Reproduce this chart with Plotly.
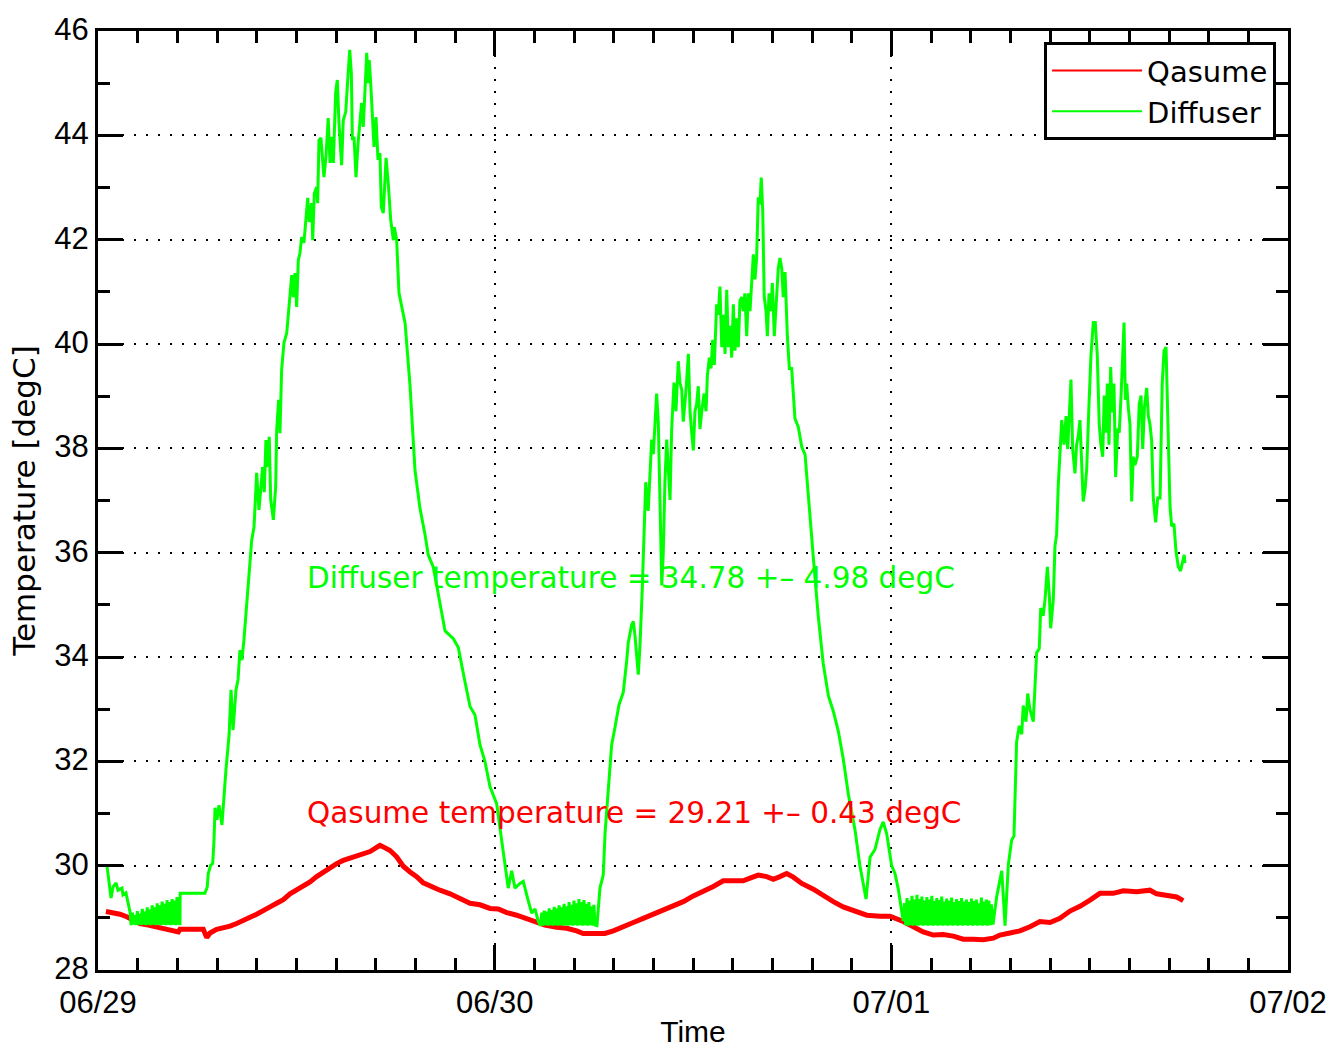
import plotly.graph_objects as go

# ---------------- data (time in hours from 06/29 00:00, temperature in degC) ----------------
day_ticks = [0, 24, 48, 72]
day_labels = ["06/29", "06/30", "07/01", "07/02"]

diffuser_hours = [
    0.54, 0.79, 0.91, 1.09, 1.21, 1.45, 1.51, 1.69, 1.94, 2.00,
    2.08, 2.15, 2.23, 2.30, 2.38, 2.45, 2.53, 2.60, 2.68, 2.75, 2.83, 2.90, 2.98, 3.05, 3.13, 3.20,
    3.28, 3.35, 3.43, 3.50, 3.58, 3.65, 3.73, 3.80, 3.88, 3.95, 4.03, 4.10, 4.18, 4.25, 4.33, 4.40,
    4.48, 4.55, 4.63, 4.70, 4.78, 4.85, 4.93, 4.96, 4.97, 6.47,
    6.61, 6.67, 6.82, 6.94, 7.02, 7.08, 7.20, 7.32, 7.50, 7.74, 7.93, 8.05, 8.17, 8.35, 8.47, 8.59,
    8.71, 8.83, 9.02, 9.24, 9.30, 9.44, 9.50, 9.60, 9.74, 9.84, 9.96, 10.06, 10.16, 10.24, 10.36,
    10.45, 10.61, 10.75, 10.81, 10.93, 11.01, 11.11, 11.25, 11.42, 11.51, 11.62, 11.72, 11.82, 11.92,
    12.02, 12.12, 12.22, 12.32, 12.46, 12.58, 12.69, 12.78, 12.93, 12.99, 13.09, 13.23, 13.29, 13.37,
    13.49, 13.67, 13.79, 13.93, 14.04, 14.14, 14.24, 14.38, 14.48, 14.58, 14.74, 14.84, 14.99, 15.11,
    15.23, 15.33, 15.39, 15.49, 15.61, 15.75, 15.85, 15.95, 16.05, 16.17, 16.26, 16.35, 16.41, 16.50,
    16.58, 16.70, 16.82, 16.94, 17.06, 17.14, 17.26, 17.43, 17.56, 17.71, 17.87, 17.93, 18.07, 18.21,
    18.58, 18.88, 19.18, 19.48, 19.78, 19.98, 20.29, 20.59, 21.00, 21.50, 21.80, 22.20, 22.51, 22.81,
    23.11, 23.41, 23.72, 24.12, 24.32, 24.62, 24.82, 25.03, 25.23, 25.53, 25.73, 26.03, 26.24, 26.44,
    26.64, 26.78,
    26.85, 26.93, 27.00, 27.08, 27.15, 27.23, 27.30, 27.38, 27.45, 27.53, 27.60, 27.68, 27.75, 27.83,
    27.90, 27.98, 28.05, 28.13, 28.20, 28.28, 28.35, 28.43, 28.50, 28.58, 28.65, 28.73, 28.80, 28.88,
    28.95, 29.03, 29.10, 29.18, 29.25, 29.33, 29.40, 29.48, 29.55, 29.63, 29.70, 29.78, 29.85, 29.93,
    30.00, 30.08, 30.19,
    30.37, 30.57, 30.68, 30.87, 31.08, 31.28, 31.52, 31.78, 31.89, 31.99, 32.08, 32.29, 32.39, 32.49,
    32.69, 32.79, 32.93, 33.03, 33.14, 33.29, 33.40, 33.50, 33.60, 33.70, 33.80, 33.90, 34.00, 34.11,
    34.20, 34.30, 34.41, 34.51, 34.61, 34.71, 34.85, 34.97, 35.11, 35.21, 35.32, 35.41, 35.58, 35.72,
    35.82, 35.92, 36.02, 36.12, 36.22, 36.32, 36.42, 36.53, 36.67, 36.79, 36.87, 36.99, 37.09, 37.19,
    37.29, 37.43, 37.53, 37.63, 37.74, 37.83, 37.94, 38.04, 38.14, 38.24, 38.34, 38.44, 38.54, 38.64,
    38.74, 38.84, 38.95, 39.04, 39.14, 39.25, 39.35, 39.45, 39.55, 39.65, 39.75, 39.85, 39.95, 40.05,
    40.13, 40.22, 40.31, 40.42, 40.50, 40.60, 40.72, 40.80, 40.92, 41.06, 41.16, 41.26, 41.37, 41.46,
    41.57, 41.71, 41.83, 41.97, 42.17, 42.37, 42.58, 42.78, 42.98, 43.28, 43.58, 43.88, 44.19, 44.49,
    44.79, 45.09, 45.40, 45.80, 46.10, 46.47, 46.71, 47.01, 47.31, 47.51, 47.72, 48.02, 48.22, 48.42,
    48.72,
    48.80, 48.87, 48.95, 49.02, 49.10, 49.17, 49.25, 49.32, 49.40, 49.47, 49.55, 49.62, 49.70, 49.77,
    49.85, 49.92, 50.00, 50.07, 50.15, 50.22, 50.30, 50.37, 50.45, 50.52, 50.60, 50.67, 50.75, 50.82,
    50.90, 50.97, 51.05, 51.12, 51.20, 51.27, 51.35, 51.42, 51.50, 51.57, 51.65, 51.72, 51.80, 51.87,
    51.95, 52.02, 52.10, 52.17, 52.25, 52.32, 52.40, 52.47, 52.55, 52.62, 52.70, 52.77, 52.85, 52.92,
    53.00, 53.07, 53.15, 53.22, 53.30, 53.37, 53.45, 53.52, 53.60, 53.67, 53.75, 53.82, 53.90, 53.97,
    54.05, 54.15,
    54.37, 54.68, 54.88, 55.08, 55.28, 55.42, 55.58, 55.74, 55.89, 55.98, 56.15, 56.25, 56.39, 56.59,
    56.79, 56.95, 57.04, 57.19, 57.30, 57.44, 57.56, 57.64, 57.80, 57.90, 58.00, 58.10, 58.20, 58.31,
    58.45, 58.57, 58.67, 58.77, 58.87, 58.97, 59.11, 59.21, 59.31, 59.41, 59.52, 59.61, 59.72, 59.82,
    59.96, 60.08, 60.22, 60.34, 60.46, 60.58, 60.68, 60.79, 60.88, 60.99, 61.07, 61.17, 61.27, 61.37,
    61.47, 61.57, 61.70, 61.79, 61.90, 62.00, 62.08, 62.16, 62.24, 62.34, 62.44, 62.54, 62.64, 62.74,
    62.88, 63.00, 63.11, 63.21, 63.31, 63.45, 63.55, 63.65, 63.75, 63.85, 63.99, 64.12, 64.26, 64.39,
    64.50, 64.62, 64.76, 64.86, 64.96, 65.10, 65.22, 65.36, 65.50, 65.62, 65.72, 65.76,
]

diffuser_temp = [
    30.00, 29.38, 29.59, 29.67, 29.53, 29.57, 29.44, 29.48, 29.11, 28.86,
    29.10, 28.87, 29.05, 28.86, 29.13, 28.87, 29.08, 28.86, 29.17, 28.87, 29.12, 28.86, 29.20, 28.87, 29.16, 28.86,
    29.24, 28.87, 29.20, 28.86, 29.28, 28.87, 29.24, 28.86, 29.31, 28.87, 29.27, 28.86, 29.34, 28.87, 29.30, 28.86,
    29.36, 28.87, 29.33, 28.86, 29.40, 28.87, 29.38, 28.86, 29.47, 29.47,
    29.59, 29.85, 30.01, 30.04, 30.49, 31.11, 30.88, 31.16, 30.78, 31.83, 32.50, 33.37, 32.60, 33.37, 33.56, 34.13,
    33.94, 34.33, 35.09, 35.86, 36.24, 36.49, 36.88, 37.53, 36.82, 37.20, 37.64, 37.16, 38.16, 37.64, 38.22,
    37.01, 36.63, 37.26, 38.35, 38.93, 38.29, 39.50, 40.02, 40.21, 40.52, 40.84, 41.32, 40.90, 41.36,
    40.71, 41.61, 41.74, 42.05, 41.94, 42.43, 42.80, 42.34, 42.70, 41.99, 42.89, 43.01, 42.70, 43.91,
    43.95, 43.20, 43.58, 44.33, 43.47, 43.97, 43.47, 44.83, 45.06, 44.24, 43.43, 44.29, 44.45, 45.06,
    45.64, 45.19, 43.91, 43.97, 43.20, 43.91, 44.29, 44.62, 44.16, 45.19, 45.58, 45.00, 45.44, 45.00,
    44.49, 43.78, 44.35, 43.53, 43.66, 42.63, 42.51, 43.57, 43.09, 42.38, 41.99, 42.24, 41.99, 40.98,
    40.40, 39.20, 37.58, 36.85, 36.36, 35.96, 35.72, 35.23, 34.50, 34.35, 34.18, 33.53, 33.05, 32.89,
    32.32, 32.00, 31.51, 31.19, 30.71, 30.06, 29.57, 29.90, 29.57, 29.66, 29.70, 29.33, 29.09, 29.17,
    28.93, 28.85,
    29.10, 28.85, 29.14, 28.86, 29.12, 28.85, 29.18, 28.86, 29.15, 28.85, 29.21, 28.86, 29.18, 28.85,
    29.24, 28.86, 29.20, 28.85, 29.27, 28.86, 29.22, 28.85, 29.30, 28.86, 29.25, 28.85, 29.33, 28.86,
    29.28, 28.85, 29.36, 28.86, 29.30, 28.85, 29.34, 28.86, 29.27, 28.85, 29.30, 28.86, 29.22, 28.85,
    29.25, 28.86, 28.85,
    29.57, 29.82, 30.63, 31.51, 32.32, 32.65, 33.08, 33.32, 33.59, 33.93, 34.27, 34.62, 34.68, 34.41,
    33.66, 34.21, 35.30, 36.46, 37.35, 36.80, 37.69, 38.17, 37.89, 38.37, 39.05, 38.51, 36.66, 35.37,
    35.98, 37.35, 38.17, 37.69, 37.01, 38.37, 39.26, 38.71, 39.67, 39.26, 39.12, 38.51, 39.12, 39.81,
    38.71, 38.30, 37.96, 38.71, 38.85, 39.19, 38.37, 38.71, 39.05, 38.71, 39.40, 39.74, 39.53, 40.08,
    39.60, 40.76, 40.56, 41.10, 39.94, 40.56, 39.81, 41.04, 39.94, 40.35, 39.74, 40.76, 39.87, 40.49,
    39.94, 40.83, 40.90, 40.63, 40.97, 40.15, 40.97, 40.63, 41.17, 41.72, 41.24, 41.65, 42.81, 42.68,
    43.19, 42.54, 40.90, 40.63, 40.15, 40.97, 40.63, 41.17, 40.15, 40.90, 41.45, 41.65, 41.45, 40.90,
    41.38, 40.15, 39.53, 39.53, 38.57, 38.41, 38.03, 37.88, 37.05, 35.91, 34.78, 33.87, 33.26, 32.96,
    32.58, 32.05, 31.37, 30.69, 30.00, 29.36, 30.16, 30.31, 30.69, 30.84, 30.61, 30.00, 29.85, 29.55,
    28.94,
    29.28, 28.86, 29.38, 28.85, 29.33, 28.86, 29.42, 28.85, 29.35, 28.86, 29.44, 28.85, 29.36, 28.86,
    29.41, 28.85, 29.33, 28.86, 29.40, 28.85, 29.35, 28.86, 29.42, 28.85, 29.32, 28.86, 29.38, 28.85,
    29.34, 28.86, 29.41, 28.85, 29.31, 28.86, 29.37, 28.85, 29.33, 28.86, 29.39, 28.85, 29.30, 28.86,
    29.36, 28.85, 29.32, 28.86, 29.38, 28.85, 29.31, 28.86, 29.35, 28.85, 29.30, 28.86, 29.37, 28.85,
    29.32, 28.86, 29.35, 28.85, 29.28, 28.86, 29.39, 28.85, 29.31, 28.86, 29.35, 28.85, 29.33, 28.86,
    29.26, 28.87,
    29.40, 29.90, 28.85, 30.02, 30.49, 30.57, 32.37, 32.68, 32.52, 33.07, 32.76, 33.30, 32.99, 32.76,
    34.08, 34.16, 34.94, 34.79, 35.10, 35.73, 35.18, 34.55, 35.10, 36.12, 36.35, 37.29, 37.84, 38.54,
    38.07, 38.62, 37.99, 38.85, 39.32, 37.99, 37.52, 38.07, 38.23, 38.54, 37.68, 36.98, 37.21, 37.60,
    38.85, 39.79, 40.41, 40.41, 39.79, 38.46, 38.07, 37.84, 39.01, 38.30, 39.24, 38.07, 39.56, 38.69,
    39.24, 37.45, 38.38, 38.30, 39.01, 39.79, 40.41, 38.93, 39.24, 38.77, 38.46, 36.98, 37.84, 37.68,
    37.84, 38.85, 39.01, 37.99, 38.77, 39.16, 38.62, 38.46, 38.15, 37.05, 36.58, 37.05, 37.05, 39.24,
    39.87, 39.94, 37.99, 36.90, 36.51, 36.55, 36.04, 35.73, 35.65, 35.80, 35.96, 35.80,
]

qasume_hours = [
    0.48, 0.93, 1.33, 1.74, 2.14, 2.54, 3.04, 3.55, 4.05, 4.56, 4.86, 4.96, 6.37, 6.58, 6.78,
    7.18, 7.58, 7.99, 8.39, 8.79, 9.20, 9.60, 10.00, 10.41, 10.81, 11.21, 11.62, 12.02, 12.42,
    12.83, 13.23, 13.63, 14.04, 14.44, 14.84, 15.25, 15.65, 16.05, 16.46, 16.86, 17.06, 17.26,
    17.67, 18.07, 18.47, 18.88, 19.28, 19.68, 20.09, 20.69, 21.30, 21.90, 22.51, 23.11, 23.72,
    24.22, 24.73, 25.33, 25.94, 26.44, 27.04, 27.75, 28.36, 28.96, 29.36, 29.97, 30.67, 31.18,
    31.78, 32.39, 32.99, 33.60, 34.20, 34.81, 35.41, 36.02, 36.62, 37.23, 37.83, 38.44, 39.04,
    39.45, 39.95, 40.46, 40.86, 41.26, 41.67, 42.07, 42.58, 43.28, 43.88, 44.49, 45.09, 45.70,
    46.51, 47.31, 47.92, 48.72, 49.33, 49.93, 50.54, 51.14, 51.75, 52.35, 52.96, 53.56, 54.17,
    54.57, 55.18, 55.78, 56.39, 56.99, 57.60, 58.20, 58.81, 59.41, 60.02, 60.62, 61.43, 62.03,
    62.84, 63.65, 64.05, 64.66, 65.26, 65.66,
]

qasume_temp = [
    29.12, 29.10, 29.07, 29.02, 28.96, 28.89, 28.86, 28.82, 28.78, 28.75, 28.73, 28.78, 28.78, 28.62, 28.71,
    28.78, 28.80, 28.84, 28.89, 28.96, 29.01, 29.07, 29.13, 29.21, 29.28, 29.35, 29.46, 29.53, 29.61,
    29.69, 29.79, 29.88, 29.95, 30.04, 30.10, 30.14, 30.19, 30.22, 30.27, 30.35, 30.39, 30.36,
    30.29, 30.17, 29.99, 29.88, 29.79, 29.67, 29.61, 29.53, 29.46, 29.37, 29.28, 29.25, 29.18,
    29.17, 29.10, 29.05, 28.99, 28.93, 28.86, 28.82, 28.80, 28.75, 28.70, 28.70, 28.70, 28.75,
    28.82, 28.91, 28.99, 29.07, 29.15, 29.25, 29.31, 29.42, 29.50, 29.60, 29.71, 29.71, 29.71,
    29.76, 29.82, 29.79, 29.74, 29.79, 29.85, 29.78, 29.66, 29.55, 29.42, 29.31, 29.21, 29.14,
    29.05, 29.03, 29.03, 28.93, 28.84, 28.73, 28.67, 28.68, 28.65, 28.59, 28.59, 28.58, 28.61,
    28.67, 28.71, 28.75, 28.83, 28.93, 28.91, 28.99, 29.13, 29.22, 29.34, 29.47, 29.47, 29.52,
    29.50, 29.53, 29.46, 29.42, 29.40, 29.33,
]

diffuser_label = "Diffuser temperature = 34.78 +– 4.98 degC"
qasume_label = "Qasume temperature = 29.21 +– 0.43 degC"

GREEN = "#00FF00"
RED = "#FF0000"
GOTHIC = "DejaVu Sans"
ARIAL = "Liberation Sans"

fig = go.Figure()
# data traces (thick noisy red band, green line)
fig.add_trace(go.Scatter(x=qasume_hours, y=qasume_temp, mode="lines", name="Qasume",
                         legendgroup="q", showlegend=False,
                         line=dict(color=RED, width=5)))
fig.add_trace(go.Scatter(x=diffuser_hours, y=diffuser_temp, mode="lines", name="Diffuser",
                         legendgroup="d", showlegend=False,
                         line=dict(color=GREEN, width=3)))
# legend entries with the thin line style of the reference legend
fig.add_trace(go.Scatter(x=[None], y=[None], mode="lines", name="Qasume", legendgroup="q",
                         line=dict(color=RED, width=2)))
fig.add_trace(go.Scatter(x=[None], y=[None], mode="lines", name="Diffuser", legendgroup="d",
                         line=dict(color=GREEN, width=2)))

fig.add_annotation(x=12.52, y=35.51, text=diffuser_label, showarrow=False, xanchor="left",
                   yanchor="middle", font=dict(family=GOTHIC, size=29.5, color=GREEN))
fig.add_annotation(x=12.52, y=31.01, text=qasume_label, showarrow=False, xanchor="left",
                   yanchor="middle", font=dict(family=GOTHIC, size=29.5, color=RED))

axis_common = dict(
    showline=True, linewidth=3, linecolor="black", mirror="ticks",
    ticks="inside", tickwidth=3, tickcolor="black", ticklen=25,
    showgrid=True, gridcolor="black", gridwidth=1.5, griddash="2px,10px",
    zeroline=False, automargin=False,
    tickfont=dict(family=ARIAL, size=31, color="black"),
)

fig.update_xaxes(range=[0, 72], tickmode="array", tickvals=day_ticks, ticktext=day_labels,
                 minor=dict(tickmode="linear", tick0=0, dtick=2.4, ticks="inside", ticklen=12,
                            tickwidth=3, tickcolor="black", showgrid=False),
                 ticklabelstandoff=3,
                 title=dict(text="Time", font=dict(family=ARIAL, size=30, color="black"), standoff=5),
                 **axis_common)
fig.update_yaxes(range=[28, 46], tickmode="linear", tick0=28, dtick=2,
                 minor=dict(tickmode="linear", tick0=28, dtick=1, ticks="inside", ticklen=12,
                            tickwidth=3, tickcolor="black", showgrid=False),
                 ticklabelshift=-2,
                 title=dict(text="Temperature [degC]", font=dict(family=GOTHIC, size=31, color="black"),
                            standoff=10),
                 **axis_common)

fig.update_layout(
    width=1337, height=1048,
    margin=dict(l=98, r=49, t=31, b=78),
    plot_bgcolor="white", paper_bgcolor="white",
    showlegend=True,
    legend=dict(x=0.99, xanchor="right", y=0.988, yanchor="top",
                bgcolor="white", bordercolor="black", borderwidth=3,
                font=dict(family=GOTHIC, size=29, color="black"),
                itemwidth=90, tracegroupgap=0),
)

fig.write_html("out.html")
